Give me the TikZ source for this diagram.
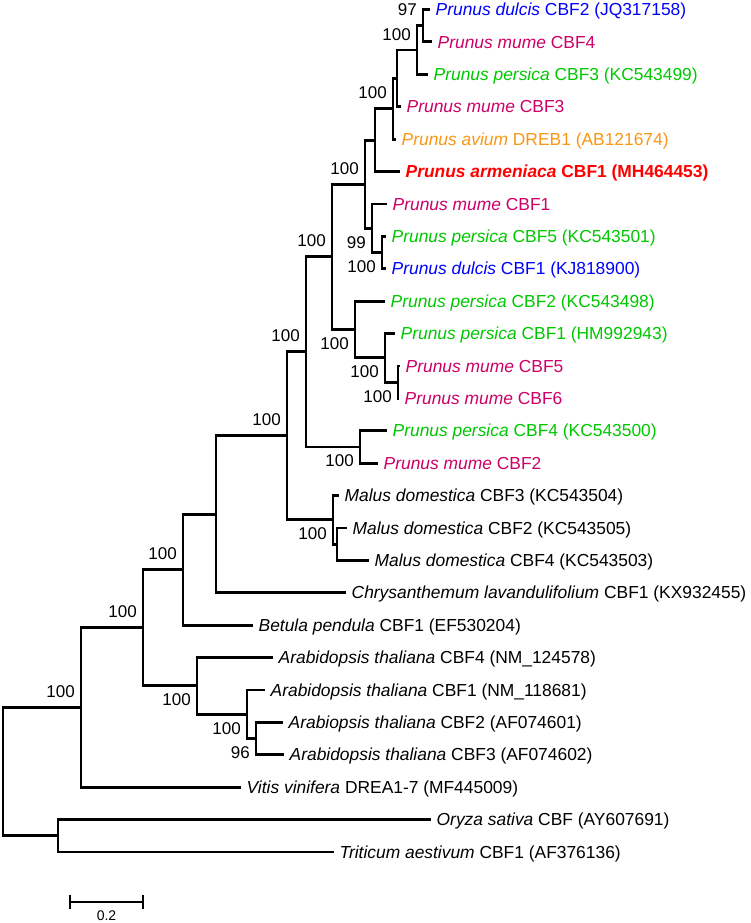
\documentclass[tikz,border=0pt]{standalone}
\usepackage{fontspec}
\setmainfont{Liberation Sans}
\usepackage{xcolor}
\usetikzlibrary{positioning}

\definecolor{dulcis}{RGB}{0,0,255}
\definecolor{mume}{RGB}{204,0,102}
\definecolor{persica}{RGB}{0,200,0}
\definecolor{avium}{RGB}{250,150,20}
\definecolor{armen}{RGB}{255,0,0}

\begin{document}
\begin{tikzpicture}[x=1pt, y=-1pt,
    branch/.style={line width=2.8pt},
    leaf/.style={anchor=west, inner xsep=5.5pt, inner ysep=1pt,
      text height=12.5pt, text depth=0pt, font=\fontsize{17.4}{20}\selectfont},
    boot/.style={inner sep=0pt, text height=12.5pt, text depth=0pt,
      font=\fontsize{17}{20}\selectfont},
    bootup/.style={boot, above left=9.75pt and 6pt of #1},
    bootdn/.style={boot, below left=7.25pt and 6pt of #1}]
  \useasboundingbox (0,0) rectangle (750,923);

  % 叶节点
  \node[leaf, text=dulcis]  (dul2) at (430,   9.5) {\textit{Prunus dulcis} CBF2 (JQ317158)};
  \node[leaf, text=mume]    (mum4) at (432,  41.9) {\textit{Prunus mume} CBF4};
  \node[leaf, text=persica] (per3) at (428,  74.3) {\textit{Prunus persica} CBF3 (KC543499)};
  \node[leaf, text=mume]    (mum3) at (401, 106.7) {\textit{Prunus mume} CBF3};
  \node[leaf, text=avium]   (avi)  at (396, 139.1) {\textit{Prunus avium} DREB1 (AB121674)};
  \node[leaf, text=armen, font=\fontsize{17.4}{20}\selectfont\bfseries]
                            (arm)  at (400, 171.5) {\textit{Prunus armeniaca} CBF1 (MH464453)};
  \node[leaf, text=mume]    (mum1) at (387, 203.9) {\textit{Prunus mume} CBF1};
  \node[leaf, text=persica] (per5) at (386, 236.3) {\textit{Prunus persica} CBF5 (KC543501)};
  \node[leaf, text=dulcis]  (dul1) at (386, 268.7) {\textit{Prunus dulcis} CBF1 (KJ818900)};
  \node[leaf, text=persica] (per2) at (385, 301.1) {\textit{Prunus persica} CBF2 (KC543498)};
  \node[leaf, text=persica] (per1) at (395, 333.5) {\textit{Prunus persica} CBF1 (HM992943)};
  \node[leaf, text=mume]    (mum5) at (400, 365.9) {\textit{Prunus mume} CBF5};
  \node[leaf, text=mume]    (mum6) at (399, 398.3) {\textit{Prunus mume} CBF6};
  \node[leaf, text=persica] (per4) at (387, 430.7) {\textit{Prunus persica} CBF4 (KC543500)};
  \node[leaf, text=mume]    (mum2) at (378, 463.1) {\textit{Prunus mume} CBF2};
  \node[leaf] (mal3) at (339, 495.5) {\textit{Malus domestica} CBF3 (KC543504)};
  \node[leaf] (mal2) at (347, 527.9) {\textit{Malus domestica} CBF2 (KC543505)};
  \node[leaf] (mal4) at (369, 560.3) {\textit{Malus domestica} CBF4 (KC543503)};
  \node[leaf] (chr)  at (346, 592.7) {\textit{Chrysanthemum lavandulifolium} CBF1 (KX932455)};
  \node[leaf] (bet)  at (253, 625.1) {\textit{Betula pendula} CBF1 (EF530204)};
  \node[leaf] (ara4) at (273, 657.5) {\textit{Arabidopsis thaliana} CBF4 (NM\_124578)};
  \node[leaf] (ara1) at (265, 689.9) {\textit{Arabidopsis thaliana} CBF1 (NM\_118681)};
  \node[leaf] (ara2) at (283, 722.3) {\textit{Arabiopsis thaliana} CBF2 (AF074601)};
  \node[leaf] (ara3) at (284, 754.7) {\textit{Arabidopsis thaliana} CBF3 (AF074602)};
  \node[leaf] (vit)  at (241, 787.1) {\textit{Vitis vinifera} DREA1-7 (MF445009)};
  \node[leaf] (ory)  at (431, 819.5) {\textit{Oryza sativa} CBF (AY607691)};
  \node[leaf] (tri)  at (334, 851.9) {\textit{Triticum aestivum} CBF1 (AF376136)};

  % 内部节点
  \coordinate (n1)  at (423,  25.7);
  \coordinate (n2)  at (417,  50.0);
  \coordinate (n3)  at (397,  78.35);
  \coordinate (n4)  at (393, 108.7);
  \coordinate (n5)  at (375, 140.1);
  \coordinate (n6)  at (382, 252.5);
  \coordinate (n7)  at (372, 228.2);
  \coordinate (n8)  at (365, 184.15);
  \coordinate (n9)  at (398, 382.1);
  \coordinate (n10) at (385, 357.8);
  \coordinate (n11) at (355, 329.45);
  \coordinate (n12) at (332, 256.8);
  \coordinate (n13) at (360, 446.9);
  \coordinate (n14) at (306, 351.85);
  \coordinate (n15) at (337, 544.1);
  \coordinate (n16) at (333, 519.8);
  \coordinate (n17) at (287, 435.8);
  \coordinate (n18) at (216, 514.25);
  \coordinate (n19) at (183, 569.7);
  \coordinate (n20) at (256, 738.5);
  \coordinate (n21) at (247, 714.2);
  \coordinate (n22) at (197, 685.85);
  \coordinate (n23) at (143, 627.8);
  \coordinate (n24) at (81,  707.45);
  \coordinate (n25) at (58,  835.7);
  \coordinate (n26) at (3,   771.6);

  % 枝
  \draw[branch] (n1) |- (dul2.west) (n1) |- (mum4.west);
  \draw[branch] (n2) |- (n1) (n2) |- (per3.west);
  \draw[branch] (n3) |- (n2) (n3) |- (mum3.west);
  \draw[branch] (n4) |- (n3) (n4) |- (avi.west);
  \draw[branch] (n5) |- (n4) (n5) |- (arm.west);
  \draw[branch] (n6) |- (per5.west) (n6) |- (dul1.west);
  \draw[branch] (n7) |- (mum1.west) (n7) |- (n6);
  \draw[branch] (n8) |- (n5) (n8) |- (n7);
  \draw[branch] (n9) |- (mum5.west) (n9) |- (mum6.west);
  \draw[branch] (n10) |- (per1.west) (n10) |- (n9);
  \draw[branch] (n11) |- (per2.west) (n11) |- (n10);
  \draw[branch] (n12) |- (n8) (n12) |- (n11);
  \draw[branch] (n13) |- (per4.west) (n13) |- (mum2.west);
  \draw[branch] (n14) |- (n12) (n14) |- (n13);
  \draw[branch] (n15) |- (mal2.west) (n15) |- (mal4.west);
  \draw[branch] (n16) |- (mal3.west) (n16) |- (n15);
  \draw[branch] (n17) |- (n14) (n17) |- (n16);
  \draw[branch] (n18) |- (n17) (n18) |- (chr.west);
  \draw[branch] (n19) |- (n18) (n19) |- (bet.west);
  \draw[branch] (n20) |- (ara2.west) (n20) |- (ara3.west);
  \draw[branch] (n21) |- (ara1.west) (n21) |- (n20);
  \draw[branch] (n22) |- (ara4.west) (n22) |- (n21);
  \draw[branch] (n23) |- (n19) (n23) |- (n22);
  \draw[branch] (n24) |- (n23) (n24) |- (vit.west);
  \draw[branch] (n25) |- (ory.west) (n25) |- (tri.west);
  \draw[branch] (n26) |- (n24) (n26) |- (n25);

  % 支持率
  \node[bootup=n1]  (b1)  {97};
  \node[bootup=n2]  (b2)  {100};
  \node[bootup=n4]  (b4)  {100};
  \node[bootup=n8]  (b8)  {100};
  \node[bootdn=n7]  (b7)  {99};
  \node[bootdn=n6]  (b6)  {100};
  \node[bootup=n12] (b12) {100};
  \node[bootdn=n11] (b11) {100};
  \node[bootdn=n10] (b10) {100};
  \node[bootdn=n9]  (b9)  {100};
  \node[bootup=n14] (b14) {100};
  \node[bootdn=n13] (b13) {100};
  \node[bootdn=n16] (b16) {100};
  \node[bootup=n17] (b17) {100};
  \node[bootup=n19] (b19) {100};
  \node[bootup=n23] (b23) {100};
  \node[bootup=n24] (b24) {100};
  \node[bootdn=n22] (b22) {100};
  \node[bootdn=n21] (b21) {100};
  \node[bootdn=n20] (b20) {96};

  % 比例尺
  \coordinate (sbL) at (70, 902);
  \coordinate (sbR) at (143, 902);
  \draw[branch] (sbL) -- (sbR);
  \draw[branch] ([yshift=7pt]sbL) -- ([yshift=-7pt]sbL);
  \draw[branch] ([yshift=7pt]sbR) -- ([yshift=-7pt]sbR);
  \node[inner sep=0pt, font=\fontsize{14}{16}\selectfont] (sblab) at (106.5, 916) {0.2};
\end{tikzpicture}
\end{document}
